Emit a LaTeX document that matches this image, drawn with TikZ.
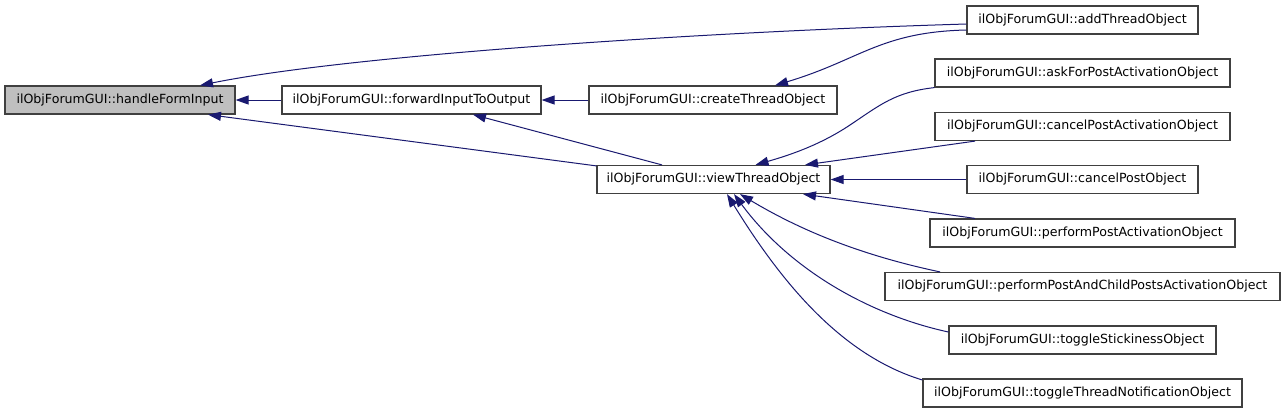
\documentclass[tikz,border=0pt]{standalone}
\usepackage{fontspec}
\setmainfont{DejaVu Sans}
\usetikzlibrary{arrows.meta}
\definecolor{edgecol}{RGB}{25,25,112}
\definecolor{boxline}{RGB}{64,64,64}
\definecolor{mainfill}{RGB}{191,191,191}
\begin{document}
\begin{tikzpicture}[x=1pt,y=-1pt,
  fn/.style={draw=boxline,line width=1.2pt,fill=white,inner sep=0pt,minimum height=28pt,
    font=\fontsize{12.6}{14}\selectfont,anchor=center},
  edge/.style={draw=edgecol,line width=1pt,-{Triangle[length=13pt,width=9pt]}}]
\useasboundingbox[fill=white] (0,0) rectangle (1285,413);
% nodes
\node[fn,fill=mainfill,minimum width=230pt] (h) at (120,100) {ilObjForumGUI::handleFormInput};
\node[fn,minimum width=259pt] (fw) at (411.5,100) {ilObjForumGUI::forwardInputToOutput};
\node[fn,minimum width=248pt] (cr) at (713,100) {ilObjForumGUI::createThreadObject};
\node[fn,minimum width=233pt] (vw) at (713.5,179.5) {ilObjForumGUI::viewThreadObject};
\node[fn,minimum width=231pt] (add) at (1082.5,20) {ilObjForumGUI::addThreadObject};
\node[fn,minimum width=295pt] (ask) at (1082.5,73) {ilObjForumGUI::askForPostActivationObject};
\node[fn,minimum width=295pt] (cpa) at (1082.5,126.5) {ilObjForumGUI::cancelPostActivationObject};
\node[fn,minimum width=231pt] (cp) at (1082.5,179.5) {ilObjForumGUI::cancelPostObject};
\node[fn,minimum width=305pt] (ppa) at (1082.5,233) {ilObjForumGUI::performPostActivationObject};
\node[fn,minimum width=395pt] (ppc) at (1082.5,286.5) {ilObjForumGUI::performPostAndChildPostsActivationObject};
\node[fn,minimum width=267pt] (ts) at (1082.5,340) {ilObjForumGUI::toggleStickinessObject};
\node[fn,minimum width=319pt] (ttn) at (1082.5,393) {ilObjForumGUI::toggleThreadNotificationObject};
% edges
\draw[edge] ([yshift=-4pt]add.west) .. controls (700,32) and (350,55) .. ([xshift=80pt]h.north);
\draw[edge] (fw.west) -- (h.east);
\draw[edge] ([yshift=-1pt]vw.north west) -- ([xshift=88pt]h.south);
\draw[edge] (cr.west) -- (fw.east);
\draw[edge] ([xshift=-51.5pt]vw.north) -- ([xshift=61.5pt]fw.south);
\draw[edge] ([yshift=-10pt]add.west) .. controls (880,32) and (860,60) .. ([xshift=62pt]cr.north);
\draw[edge] (ask.south west) .. controls (895,92) and (880,105) .. (850,125) .. controls (820,145) and (790,155) .. ([xshift=42pt]vw.north);
\draw[edge] ([xshift=-107.5pt]cpa.south) -- ([xshift=91.5pt]vw.north);
\draw[edge] (cp.west) -- (vw.east);
\draw[edge] ([xshift=-107.5pt]ppa.north) -- ([xshift=89.5pt]vw.south);
\draw[edge] ([xshift=-142.5pt]ppc.north) .. controls (860,255) and (800,230) .. ([xshift=26.5pt]vw.south);
\draw[edge] ([yshift=8pt]ts.west) .. controls (870,315) and (790,270) .. ([xshift=20.5pt]vw.south);
\draw[edge] ([yshift=13pt]ttn.west) .. controls (840,355) and (780,280) .. ([xshift=13.5pt]vw.south);
\end{tikzpicture}
\end{document}
